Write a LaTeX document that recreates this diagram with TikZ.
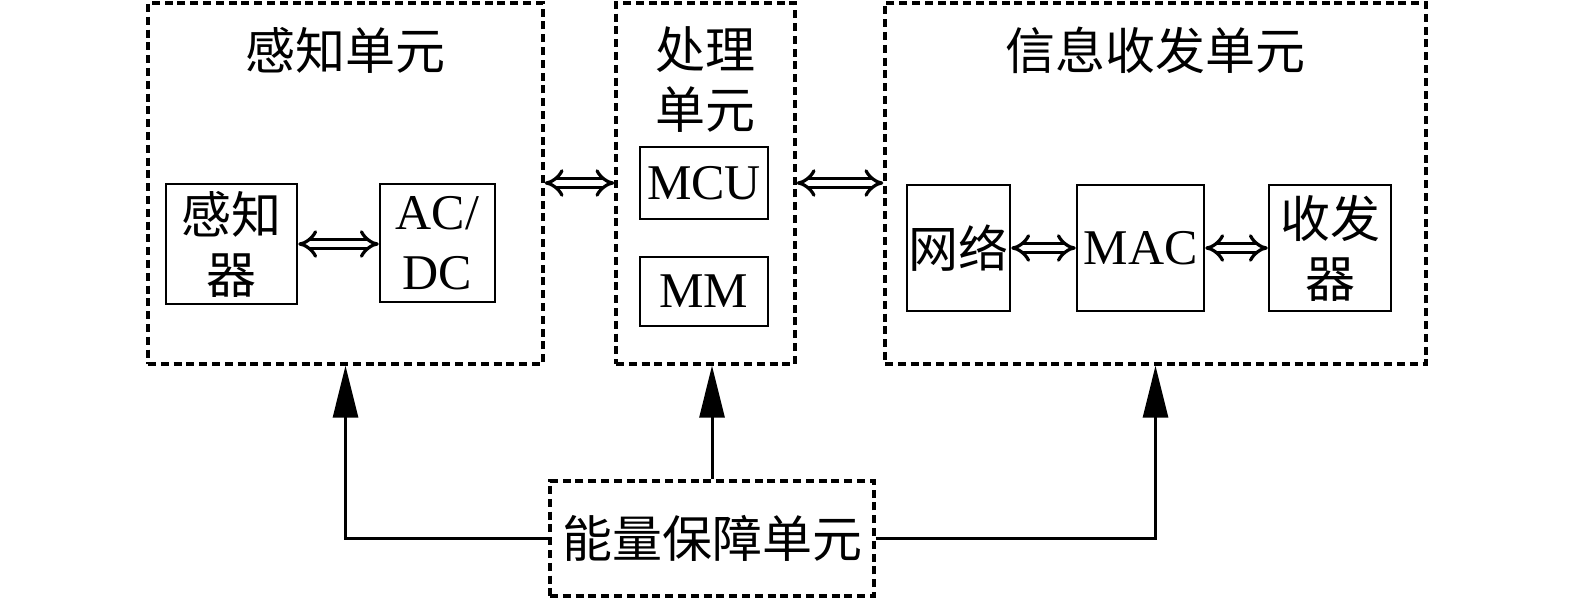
\documentclass[tikz,border=0pt]{standalone}
\usepackage{fontspec}
\setmainfont{Liberation Serif}
\newfontfamily\cjk{Noto Sans CJK SC}
\usetikzlibrary{arrows.meta}
\begin{document}
\begin{tikzpicture}[x=0.5pt,y=-0.5pt,
  txt/.style={font=\fontsize{25pt}{30pt}\selectfont, align=center, inner sep=0pt},
  dbox/.style={draw, dash pattern=on 4pt off 2.4pt, line width=1.7pt, inner sep=0pt},
  sbox/.style={draw, line width=1.25pt, inner sep=0pt, txt},
  dbl/.style={double, double distance=3pt, line width=1.6pt, {Implies}-{Implies}},
  feed/.style={line width=1.5pt, -{Triangle[length=26pt,width=12.5pt]}}]
\useasboundingbox (0,0) rectangle (1575,600);
% outer dashed boxes
\node[dbox, minimum width=197.5pt, minimum height=180.5pt] (sense) at (345.5,183.5) {};
\node[dbox, minimum width=89.5pt, minimum height=180.5pt] (proc) at (705.5,183.5) {};
\node[dbox, minimum width=270.5pt, minimum height=180.5pt] (comm) at (1155.5,183.5) {};
\node[dbox, txt, minimum width=162pt, minimum height=57.5pt] (power) at (712,538.5) {\cjk 能量保障单元};
% titles
\node[txt] (t1) at (345,50) {\cjk 感知单元};
\node[txt] (t2) at (705,80) {\cjk 处理\\\cjk 单元};
\node[txt] (t3) at (1155,50) {\cjk 信息收发单元};
% inner boxes
\node[sbox, minimum width=65.5pt, minimum height=60pt] (sensor) at (231.5,244) {\cjk 感知\\\cjk 器};
\node[sbox, minimum width=57.5pt, minimum height=59pt] (adc) at (437.5,243) {AC/\\DC};
\node[sbox, minimum width=64pt, minimum height=36pt] (mcu) at (704,183) {MCU};
\node[sbox, minimum width=64pt, minimum height=34.5pt] (mm) at (704,291.5) {MM};
\node[sbox, minimum width=51.5pt, minimum height=63pt] (net) at (958.5,248) {\cjk 网络};
\node[sbox, minimum width=63.5pt, minimum height=63pt] (mac) at (1140.5,248) {MAC};
\node[sbox, minimum width=61pt, minimum height=63pt] (trx) at (1330,248) {\cjk 收发\\\cjk 器};
% double arrows
\draw[dbl] (sensor.east) -- (adc.west |- sensor.east);
\draw[dbl] (sense.east |- mcu) -- (proc.west |- mcu);
\draw[dbl] (proc.east |- mcu) -- (comm.west |- mcu);
\draw[dbl] (net.east) -- (mac.west);
\draw[dbl] (mac.east) -- (trx.west);
% power feeds
\draw[feed] (power.west) -| (sense.south);
\draw[feed] (power.north) -- (power.north |- proc.south);
\draw[feed] (power.east) -| (comm.south);
\end{tikzpicture}
\end{document}
